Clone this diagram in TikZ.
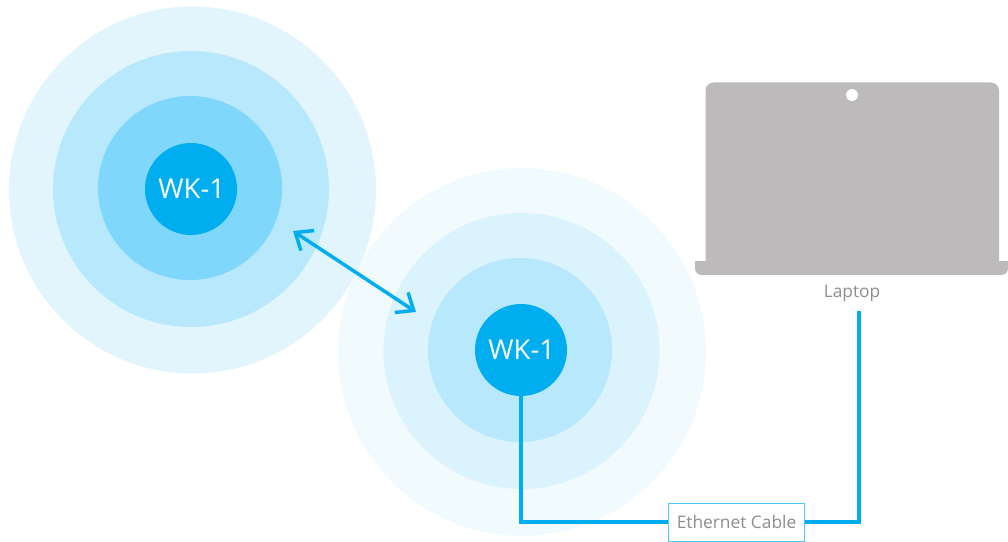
\documentclass[tikz,border=0pt]{standalone}
\usepackage{fontspec}
\setmainfont{Open Sans}
\usetikzlibrary{arrows.meta}
\definecolor{wkblue}{HTML}{00AEEF}
\definecolor{haloA}{HTML}{E2F5FD}
\definecolor{haloB}{HTML}{B8E8FB}
\definecolor{haloC}{HTML}{7FD7FB}
\definecolor{haloD}{HTML}{F1FBFE}
\definecolor{haloE}{HTML}{DAF3FC}
\definecolor{laptopgrey}{HTML}{BCBABB}
\definecolor{labelgrey}{HTML}{8E8E8E}
\tikzset{
  x=0.75pt,y=-0.75pt,
  halo/.style={circle,draw=none,inner sep=0pt,minimum size=#1*0.75pt},
  wknode/.style={circle,fill=wkblue,draw=none,inner sep=0pt,minimum size=69pt,text=white,font=\fontsize{20.5}{24}\selectfont},
  cable/.style={draw=wkblue,line width=3pt,miter limit=10},
  linkarrow/.style={draw=wkblue,line width=2.6pt,{Straight Barb[length=11pt,width=18pt,line width=2.6pt]}-{Straight Barb[length=11pt,width=18pt,line width=2.6pt]}},
  caption/.style={text=labelgrey,font=\fontsize{13}{15}\selectfont,inner sep=0pt},
  cablebox/.style={draw=wkblue!70,fill=white,line width=0.75pt,minimum width=102pt,minimum height=28.5pt,inner sep=0pt,text=labelgrey,font=\fontsize{13}{15}\selectfont}
}
\begin{document}
\begin{tikzpicture}
\useasboundingbox (0,0) rectangle (1008,542);
% left halo
\node[halo=367,fill=haloA] (la) at (192.5,190) {};
\node[halo=276,fill=haloB] (lb) at (191,189) {};
\node[halo=184,fill=haloC] (lc) at (190,188) {};
\node[wknode] (wkl) at (191,189) {\hspace{1pt}WK-1};
% right halo
\node[halo=368,fill=haloD] (ra) at (522,352) {};
\node[halo=276,fill=haloE] (rb) at (521.5,351) {};
\node[halo=184,fill=haloB] (rc) at (520,350) {};
\node[wknode] (wkr) at (521,350) {\hspace{1pt}WK-1};
% laptop
\fill[laptopgrey] (705.5,261)
  [rounded corners=6pt] -- (705.5,82.5) -- (999,82.5) [sharp corners] -- (999,261) -- (1008,261)
  [rounded corners=5pt] -- (1008,275) -- (695,275) [sharp corners] -- (695,261) -- cycle;
\fill[white] (852,95) circle[radius=6];
\node[caption] (laptop) at (852,293.5) {Laptop};
% cable
\coordinate (lapend) at (858.5,311);
\coordinate (cableturn) at (520.5,522);
\node[cablebox] (box) at (736.5,522) {\raisebox{-0.6pt}{Ethernet Cable}};
\draw[cable] (wkr.south -| cableturn) -- (cableturn) -- (box.west);
\draw[cable] (box.east) -- (lapend |- box.east) -- (lapend);
% arrow
\coordinate (arrowa) at (293,231);
\coordinate (arrowb) at (416,312);
\draw[linkarrow] (arrowa) -- (arrowb);
\end{tikzpicture}
\end{document}
